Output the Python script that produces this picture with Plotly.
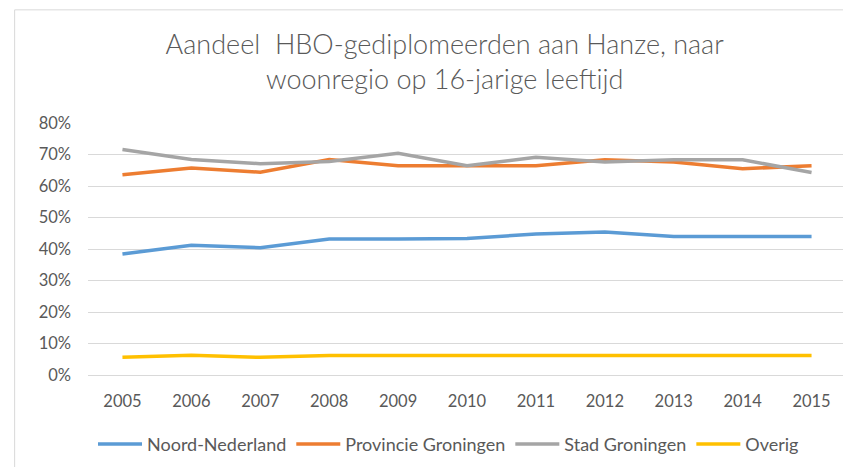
import plotly.graph_objects as go

years = ["2005", "2006", "2007", "2008", "2009", "2010", "2011", "2012", "2013", "2014", "2015"]
noord_nederland = [38.4, 41.2, 40.4, 43.2, 43.2, 43.3, 44.8, 45.4, 44.0, 44.0, 44.0]
provincie_groningen = [63.6, 65.7, 64.4, 68.4, 66.4, 66.4, 66.4, 68.3, 67.6, 65.5, 66.4]
stad_groningen = [71.6, 68.4, 67.1, 67.8, 70.4, 66.4, 69.1, 67.6, 68.3, 68.3, 64.3]
overig = [5.6, 6.3, 5.6, 6.2, 6.2, 6.2, 6.2, 6.2, 6.2, 6.2, 6.2]

series = [
    ("Noord-Nederland", noord_nederland, "#5B9BD5"),
    ("Provincie Groningen", provincie_groningen, "#ED7D31"),
    ("Stad Groningen", stad_groningen, "#A5A5A5"),
    ("Overig", overig, "#FFC000"),
]

fig = go.Figure()
for name, vals, color in series:
    fig.add_trace(go.Scatter(
        x=years, y=[v / 100 for v in vals], name=name, mode="lines",
        line=dict(color=color, width=3.5),
    ))

font_family = "Lato, 'Open Sans', sans-serif"

# page body has an 8px margin; compensate so the chart lands where the reference is
fig.update_layout(
    width=843, height=459,
    margin=dict(l=79.5, r=4.5, t=115, b=90),
    paper_bgcolor="white", plot_bgcolor="white",
    font=dict(family=font_family, color="#595959", size=16),
    title=dict(
        text="Aandeel  HBO-gediplomeerden aan Hanze, naar<br>woonregio op 16-jarige leeftijd",
        x=0.518, xanchor="center", yref="container", y=0.90, yanchor="top",
        font=dict(family=font_family, size=27, color="#595959", weight=300),
    ),
    xaxis=dict(
        type="category", range=[-0.5, 10.5], showgrid=False,
        showline=False, ticks="", ticklabelstandoff=14,
        tickfont=dict(size=16.5, color="#595959"),
    ),
    yaxis=dict(
        range=[0, 0.8], dtick=0.1, tickformat=".0%",
        showgrid=True, gridcolor="#D9D9D9", gridwidth=1,
        zeroline=True, zerolinecolor="#D9D9D9", zerolinewidth=1,
        showline=False, ticks="", ticklabelstandoff=16,
        tickfont=dict(size=16.5, color="#595959"),
    ),
    legend=dict(
        orientation="h", x=0.4756, xanchor="center", y=-0.202, yanchor="top",
        font=dict(size=18, color="#595959"), itemwidth=44,
        traceorder="normal",
    ),
    shapes=[dict(
        type="rect", xref="paper", yref="paper",
        x0=-0.0968, x1=1.2, y0=-0.6, y1=1.449,
        line=dict(color="#D9D9D9", width=1), fillcolor="rgba(0,0,0,0)",
        layer="below",
    )],
)

fig.write_html("out.html")
